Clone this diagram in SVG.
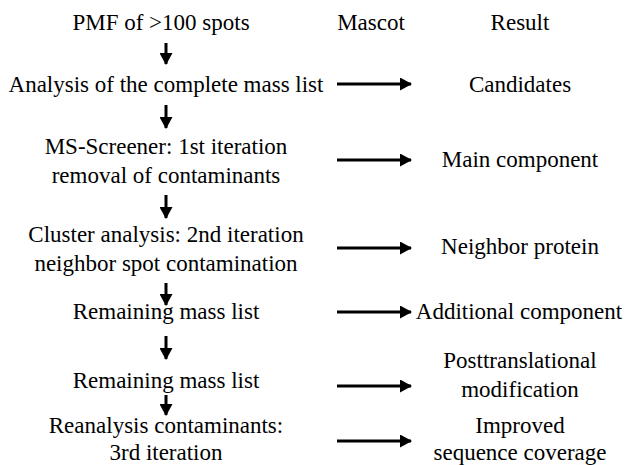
<svg xmlns="http://www.w3.org/2000/svg" width="626" height="465" viewBox="0 0 626 465">
<style>
text{font-family:'Liberation Serif','Times New Roman',Tinos,serif;font-size:23px;fill:#000;text-anchor:middle}
.ln{stroke:#000;stroke-width:3;fill:none}
</style>
<defs>
<marker id="ah" markerUnits="userSpaceOnUse" markerWidth="12" markerHeight="13" refX="11" refY="6.5" orient="auto">
<path d="M0,0 L12,6.5 L0,13 Z" fill="#000"/>
</marker>
</defs>
<rect width="626" height="465" fill="#fff"/>
<g id="headers">
<text x="161" y="30">PMF of  &gt;100 spots</text>
<text x="371" y="30">Mascot</text>
<text x="520" y="30">Result</text>
</g>
<g id="step1"><text x="166" y="92">Analysis of the complete mass list</text></g>
<g id="step2"><text x="166" y="154">MS-Screener: 1st iteration</text><text x="166" y="183">removal of contaminants</text></g>
<g id="step3"><text x="166" y="242">Cluster analysis: 2nd iteration</text><text x="166" y="271">neighbor spot contamination</text></g>
<g id="step4"><text x="166" y="319">Remaining mass list</text></g>
<g id="step5"><text x="166" y="388">Remaining mass list</text></g>
<g id="step6"><text x="166" y="433">Reanalysis contaminants:</text><text x="166" y="460">3rd iteration</text></g>
<g id="res1"><text x="520" y="92">Candidates</text></g>
<g id="res2"><text x="520" y="167">Main component</text></g>
<g id="res3"><text x="520" y="254">Neighbor protein</text></g>
<g id="res4"><text x="519" y="319">Additional component</text></g>
<g id="res5"><text x="520" y="368">Posttranslational</text><text x="520" y="397">modification</text></g>
<g id="res6"><text x="520" y="433">Improved</text><text x="520" y="460">sequence coverage</text></g>
<g id="connectors">
<line class="ln" x1="166" y1="43" x2="166" y2="64" marker-end="url(#ah)"/>
<line class="ln" x1="166" y1="105" x2="166" y2="128" marker-end="url(#ah)"/>
<line class="ln" x1="166" y1="195" x2="166" y2="218" marker-end="url(#ah)"/>
<line class="ln" x1="166" y1="283" x2="166" y2="305" marker-end="url(#ah)"/>
<line class="ln" x1="166" y1="336" x2="166" y2="359" marker-end="url(#ah)"/>
<line class="ln" x1="166" y1="395" x2="166" y2="415" marker-end="url(#ah)"/>
<line class="ln" x1="337" y1="84" x2="411" y2="84" marker-end="url(#ah)"/>
<line class="ln" x1="337" y1="160" x2="411" y2="160" marker-end="url(#ah)"/>
<line class="ln" x1="337" y1="248" x2="411" y2="248" marker-end="url(#ah)"/>
<line class="ln" x1="337" y1="312" x2="411" y2="312" marker-end="url(#ah)"/>
<line class="ln" x1="337" y1="386" x2="411" y2="386" marker-end="url(#ah)"/>
<line class="ln" x1="337" y1="441" x2="411" y2="441" marker-end="url(#ah)"/>
</g>
</svg>
